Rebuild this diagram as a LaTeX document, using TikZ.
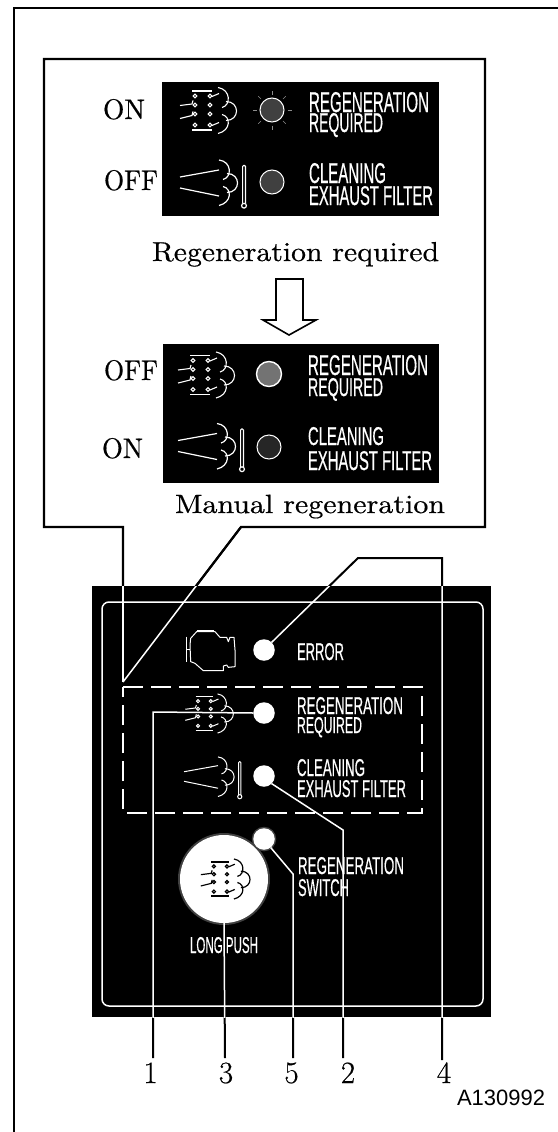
\documentclass[tikz,border=0pt]{standalone}
\usepackage{fontspec}
\usepackage{graphicx}
\newfontfamily\panelfont[FakeBold=0.6]{Liberation Sans}
\newfontfamily\codefont{Liberation Sans}
\newfontfamily\srffont[FakeBold=0.5]{Latin Modern Roman}
\newcommand{\stx}[7][white]{\node[txt,text=#1] (#2) at (#3,#4+#6) {\resizebox{#5pt}{#6pt}{\panelfont #7}};}
\newcommand{\srf}[6]{\node[txt] (#1) at (#2,#3) {\resizebox{#4pt}{#5pt}{\srffont #6}};}
\newcommand{\regenicon}[5][white]{%
 \begin{scope}[shift={(#2,#3)},scale=#4,line width=#5,draw=#1]
  \draw (-10,-19.5)--(10,-19.5) (-10,19.5)--(10,19.5);
  \foreach \cx in {-7,8}\foreach \cy in {-14.5,-5.5,3.5,14.5}{\draw (\cx,\cy) circle[radius=1.8];}
  \draw (-22,-5)--(-10,-6.5)--(-9,-10) (-22,8)--(-10,5)--(-9,1) (10,-14)--(17,-17) (10,15)--(17,12);
  \draw (16,-23) .. controls (29,-21) and (29,-5) .. (20,-3);
  \draw (24,-9) .. controls (38,-9) and (38,10) .. (24,10);
  \draw (20,4) .. controls (29,6) and (29,20) .. (16,23);
 \end{scope}}
\newcommand{\exhicon}[4]{%
 \begin{scope}[shift={(#1,#2)},scale=#3,line width=#4,draw=white]
  \draw (-39,-5.5)--(0,-12.5) (-39,5.5)--(0,13.5);
  \draw (0,-22.5) .. controls (13,-21) and (13,-5) .. (4,-3);
  \draw (8,-9) .. controls (22,-9) and (22,10) .. (8,10);
  \draw (4,4) .. controls (13,6) and (13,20) .. (0,23);
  \draw[rounded corners=1] (23.6,21) -- (23.6,-17) -- (26.4,-17) -- (26.4,21);
  \draw (25,23.2) circle[radius=2.4];
 \end{scope}}
\tikzset{
 txt/.style={inner sep=0pt,outer sep=0pt,anchor=base west},
 darkpanel/.style={fill=black,draw=none,inner sep=0pt,outer sep=0pt},
 lamp/.style={circle,fill=white,draw=none,minimum size=21.5pt,inner sep=0pt,outer sep=0pt},
 minilamp/.style={circle,draw=white,line width=1pt,minimum size=24pt,inner sep=0pt,outer sep=0pt},
 num/.style={inner sep=0pt,outer sep=0pt,anchor=base,font=\srffont\fontsize{31}{31}\selectfont},
 frameline/.style={line width=2.2pt,line join=miter},
}
\newcommand{\leaderset}[2]{%
 \draw[line width=#2,draw=#1] (lampreg.west) -- (b1) -- (n1);
 \draw[line width=#2,draw=#1] (lampcln.-45) -- (b2) -- (n2);
 \draw[line width=#2,draw=#1] (button.south) -- (n3);
 \draw[line width=#2,draw=#1] (lamperr.45) -- (b4a) -- (b4b) -- (n4);
 \draw[line width=#2,draw=#1] (lampsw.-52) -- (b5) -- (n5);
 \draw[line width=#2,draw=#1] (cpA) -- (cpB);
 \draw[line width=#2,draw=#1] (cpC) -- (cpB);
}
\begin{document}
\begin{tikzpicture}[x=1pt,y=-1pt]
\useasboundingbox (0,0) rectangle (557,1132);
\fill[white] (0,0) rectangle (557,1132);
% coordinates
\coordinate (f1) at (558,8); \coordinate (f2) at (14,8); \coordinate (f3) at (14,1133);
\coordinate (cpA) at (123,527); \coordinate (cpB) at (123,682); \coordinate (cpC) at (241,527);
\coordinate (cp1) at (44,527); \coordinate (cp2) at (44,59); \coordinate (cp3) at (485,59); \coordinate (cp4) at (485,527);
\coordinate (b1) at (153,712); \coordinate (b2) at (343,830); \coordinate (b4a) at (358,558); \coordinate (b4b) at (442,558); \coordinate (b5) at (293,874);
\coordinate (n1) at (153,1058); \coordinate (n2) at (343,1058); \coordinate (n3) at (225,1058); \coordinate (n4) at (442,1060); \coordinate (n5) at (293,1058);
% frames
\draw[line width=2.4pt] (f1) -- (f2) -- (f3);
\draw[frameline] (cpB) -- (cpA) -- (cp1) -- (cp2) -- (cp3) -- (cp4) -- (cpC) -- (cpB);
% top panels
\node[darkpanel,minimum width=277pt,minimum height=134pt] (panelA) at (300.5,149) {};
\node[darkpanel,minimum width=276pt,minimum height=139pt] (panelB) at (301,413.5) {};
% serif labels
\srf{onA}{103}{119}{42}{20}{ON}
\srf{offA}{104}{190}{54}{20}{OFF}
\srf{offB}{104}{380}{54}{20}{OFF}
\srf{onB}{102}{458}{41}{20}{ON}
\srf{capA}{152}{261}{287}{19}{Regeneration required}
\srf{capB}{175}{513}{270}{18.3}{Manual regeneration}
% hollow arrow
\draw[line width=1.6pt,line join=miter,fill=white] (276,279) -- (303,279) -- (303,320) -- (316,320) -- (289,335) -- (263,320) -- (276,320) -- cycle;
% panel A
\regenicon{202}{110.5}{1}{1.1pt}
\exhicon{219}{182.5}{1}{1.2pt}
\node[minilamp,fill=black!75] (lA1) at (272,110) {};
\node[minilamp,fill=black!75] (lA2) at (272,182) {};
\foreach \a in {0,45,...,315}{\draw[black!45,line width=.5pt] (272,110) ++(\a:15.5) -- ++(\a:4);}
\stx{ta1}{309}{92}{120}{20}{REGENERATION}
\stx{ta2}{309}{113}{74}{19}{REQUIRED}
\stx{ta3}{309}{163}{77}{20}{CLEANING}
\stx{ta4}{309}{186}{124}{19}{EXHAUST FILTER}
% panel B
\regenicon{200}{375}{1}{1.1pt}
\exhicon{217}{446}{1}{1.2pt}
\node[minilamp,fill=black!55,line width=1.4pt,minimum size=25pt] (lB1) at (269,374) {};
\node[minilamp,fill=black!85] (lB2) at (269,447) {};
\stx{tb1}{308}{355}{120}{20}{REGENERATION}
\stx{tb2}{308}{378}{75}{18}{REQUIRED}
\stx{tb3}{308}{427}{76}{18}{CLEANING}
\stx{tb4}{308}{451}{124}{19}{EXHAUST FILTER}
% bottom panel
\node[darkpanel,minimum width=399pt,minimum height=431pt] (bigpanel) at (291.5,801.5) {};
\draw[white,line width=1.5pt,rounded corners=7pt] (102,602) rectangle (483,1006);
\draw[white,line width=1.5pt,dash pattern=on 20pt off 8pt] (123,687) -- (422,687) -- (422,813) -- (123,813) -- cycle;
\node[lamp] (lamperr) at (264,650) {};
\node[lamp] (lampreg) at (264,713) {};
\node[lamp] (lampcln) at (264,776) {};
\node[circle,fill=black!75,minimum size=92pt,inner sep=0pt] (buttonhalo) at (224,879) {};
\node[circle,fill=white,minimum size=88pt,inner sep=0pt,outer sep=0pt] (button) at (224,879) {};
\node[circle,fill=black!75,minimum size=24.5pt,inner sep=0pt] (lamphalo) at (264,839) {};
\node[lamp] (lampsw) at (264,839) {};
% engine icon
\begin{scope}[shift={(80,580)},scale=1/3,line width=1pt,draw=white,line join=round]
 \draw (318,170) -- (318,245) (318,208) -- (330,208) (352,150) -- (402,150);
 \draw (330,195) -- (332,175) -- (350,155) -- (405,155) -- (420,172) -- (440,172) -- (445,185) -- (450,172) -- (462,172) -- (465,210) -- (465,260) -- (445,262) -- (440,255) -- (430,258) -- (430,272) -- (370,272) -- (345,250) -- (332,245) -- cycle;
\end{scope}
\regenicon{204}{713.5}{.85}{1pt}
\exhicon{218}{776.5}{.87}{1pt}
\regenicon[black]{220}{879}{.87}{1.2pt}
\stx{tc0}{297}{643}{47}{17}{ERROR}
\stx{tc1}{297}{697}{106}{17}{REGENERATION}
\stx{tc2}{297}{717}{65}{16}{REQUIRED}
\stx{tc3}{297}{759}{68}{17}{CLEANING}
\stx{tc4}{297}{780}{109}{17}{EXHAUST FILTER}
\stx{tc5}{298}{857}{106}{17}{REGENERATION}
\stx{tc6}{298}{879}{51}{17}{SWITCH}
\stx{tc7}{190}{937}{68}{16}{LONG PUSH}
% leaders: black outside the panel, white inside
\begin{scope}[even odd rule]
 \clip (0,0) rectangle (557,586) (0,1017) rectangle (557,1132);
 \leaderset{black}{2pt}
\end{scope}
\begin{scope}
 \clip (92,586) rectangle (491,1017);
 \leaderset{white}{1.5pt}
\end{scope}
% numbers
\node[num] (l1) at (150.5,1083) {1};
\node[num] (l3) at (226,1083) {3};
\node[num] (l5) at (291.5,1083) {5};
\node[num] (l2) at (348,1083) {2};
\node[num] (l4) at (444,1083) {4};
\node[txt] (code) at (457,1105) {\resizebox{88pt}{15.5pt}{\codefont A130992}};
\end{tikzpicture}
\end{document}
